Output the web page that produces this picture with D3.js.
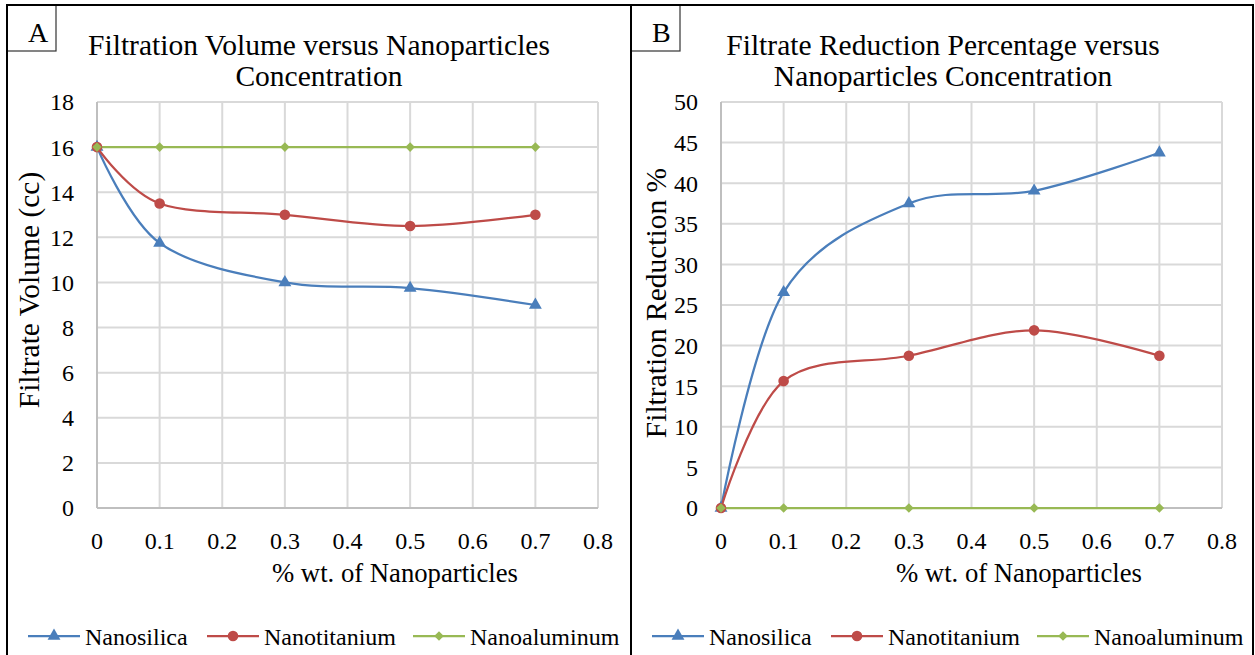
<!DOCTYPE html>
<html><head><meta charset="utf-8">
<script src="https://cdn.jsdelivr.net/npm/d3@7"></script>
<style>
body{margin:0;background:#fff}
svg{display:block}
</style>
</head><body><svg id="c" width="1255" height="655"></svg>
<script>
// ---- data ----
const xValues = [0, 0.1, 0.3, 0.5, 0.7];
const seriesNames = ["Nanosilica", "Nanotitanium", "Nanoaluminum"];
const volSilica = [16, 11.75, 10, 9.75, 9];
const volTitanium = [16, 13.5, 13, 12.5, 13];
const volAluminum = [16, 16, 16, 16, 16];
const redSilica = [0, 26.56, 37.5, 39.06, 43.75];
const redTitanium = [0, 15.63, 18.75, 21.88, 18.75];
const redAluminum = [0, 0, 0, 0, 0];
const xTicks = [0, 0.1, 0.2, 0.3, 0.4, 0.5, 0.6, 0.7, 0.8];
const volTicks = [0, 2, 4, 6, 8, 10, 12, 14, 16, 18];
const redTicks = [0, 5, 10, 15, 20, 25, 30, 35, 40, 45, 50];

const colors = ["#4A7EBB", "#BE4B48", "#98B954"];
const markers = ["triangle", "circle", "diamond"];
const FONT = "'Liberation Serif', 'Times New Roman', Tinos, 'DejaVu Serif', serif";

const svg = d3.select("#c");

const panels = [
  {ox: 0, letter: "A", title: ["Filtration Volume versus Nanoparticles", "Concentration"],
   yTitle: "Filtrate Volume (cc)", yTitleX: 39, yTitleY: 290, ymax: 18, yTicks: volTicks,
   series: [volSilica, volTitanium, volAluminum]},
  {ox: 624, letter: "B", title: ["Filtrate Reduction Percentage versus", "Nanoparticles Concentration"],
   yTitle: "Filtration Reduction %", yTitleX: 42, yTitleY: 303, ymax: 50, yTicks: redTicks,
   series: [redSilica, redTitanium, redAluminum]}
];

function markerPath(type) {
  if (type === "triangle") return d3.symbol().type(d3.symbolTriangle).size(72)();
  if (type === "circle") return d3.symbol().type(d3.symbolCircle).size(88)();
  return d3.symbol().type(d3.symbolSquare).size(46)();
}
function markerRot(type) { return type === "diamond" ? " rotate(45)" : ""; }

function txt(sel, size) {
  return sel.attr("font-family", FONT).attr("font-size", size).attr("fill", "#000");
}

panels.forEach(p => {
  const g = svg.append("g").attr("transform", `translate(${p.ox},0)`);
  const x = d3.scaleLinear().domain([0, 0.8]).range([97, 598]);
  const y = d3.scaleLinear().domain([0, p.ymax]).range([508, 102]);

  // gridlines
  g.append("g").selectAll("line").data(p.yTicks.filter(d => d > 0)).join("line")
    .attr("x1", x(0)).attr("x2", x(0.8)).attr("y1", d => y(d)).attr("y2", d => y(d))
    .attr("stroke", "#D9D9D9").attr("stroke-width", 2);
  g.append("g").selectAll("line").data(xTicks.filter(d => d > 0)).join("line")
    .attr("y1", y(0)).attr("y2", y(p.ymax)).attr("x1", d => x(d)).attr("x2", d => x(d))
    .attr("stroke", "#D9D9D9").attr("stroke-width", 2);
  // axes lines
  g.append("line").attr("x1", x(0)).attr("x2", x(0)).attr("y1", y(0)).attr("y2", y(p.ymax))
    .attr("stroke", "#BFBFBF").attr("stroke-width", 2);
  g.append("line").attr("x1", x(0)).attr("x2", x(0.8)).attr("y1", y(0)).attr("y2", y(0))
    .attr("stroke", "#BFBFBF").attr("stroke-width", 2);

  // tick labels
  txt(g.append("g").selectAll("text").data(p.yTicks).join("text")
    .attr("x", x(0) - 23).attr("y", d => y(d)).attr("dy", "0.35em")
    .attr("text-anchor", "end"), 24).text(d => d);
  txt(g.append("g").selectAll("text").data(xTicks).join("text")
    .attr("x", d => x(d)).attr("y", 549)
    .attr("text-anchor", "middle"), 24).text(d => d);

  // series
  const line = d3.line().x((d, i) => x(xValues[i])).y(d => y(d)).curve(d3.curveCardinal.tension(0));
  p.series.forEach((s, si) => {
    g.append("path").datum(s).attr("d", line).attr("fill", "none")
      .attr("stroke", colors[si]).attr("stroke-width", 2.25);
  });
  p.series.forEach((s, si) => {
    g.append("g").selectAll("path").data(s).join("path")
      .attr("d", markerPath(markers[si]))
      .attr("transform", (d, i) => `translate(${x(xValues[i])},${y(d)})${markerRot(markers[si])}`)
      .attr("fill", colors[si]);
  });

  // titles
  p.title.forEach((t, i) => {
    txt(g.append("text").attr("x", 319).attr("y", 55 + i * 31).attr("text-anchor", "middle"), 29.5).text(t);
  });
  txt(g.append("text").attr("transform", `translate(${p.yTitleX},${p.yTitleY}) rotate(-90)`)
    .attr("text-anchor", "middle"), 29.5).text(p.yTitle);
  txt(g.append("text").attr("x", 395).attr("y", 582).attr("text-anchor", "middle"), 26.7)
    .text("% wt. of Nanoparticles");

  // legend
  const legX = [28, 207, 413];
  seriesNames.forEach((n, si) => {
    const lg = g.append("g").attr("transform", `translate(${legX[si]},636)`);
    lg.append("line").attr("x1", 0).attr("x2", 52).attr("y1", 0).attr("y2", 0)
      .attr("stroke", colors[si]).attr("stroke-width", 2.25);
    lg.append("path").attr("d", markerPath(markers[si]))
      .attr("transform", "translate(26,0)" + markerRot(markers[si]))
      .attr("fill", colors[si]);
    txt(lg.append("text").attr("x", 57).attr("y", 9), 24).text(n);
  });

  // letter box
  g.append("rect").attr("x", 7).attr("y", 5).attr("width", 49).attr("height", 46)
    .attr("fill", "none").attr("stroke", "#333").attr("stroke-width", 1.2);
  txt(g.append("text").attr("x", 28).attr("y", 42), 28).text(p.letter);
});

// outer borders
const border = svg.append("g").attr("stroke", "#000").attr("stroke-width", 2).attr("fill", "none");
border.append("line").attr("x1", 6).attr("x2", 1254).attr("y1", 5).attr("y2", 5);
border.append("line").attr("x1", 7).attr("x2", 7).attr("y1", 4).attr("y2", 655);
border.append("line").attr("x1", 631).attr("x2", 631).attr("y1", 4).attr("y2", 655);
border.append("line").attr("x1", 1253).attr("x2", 1253).attr("y1", 4).attr("y2", 655);
</script>
</body></html>
